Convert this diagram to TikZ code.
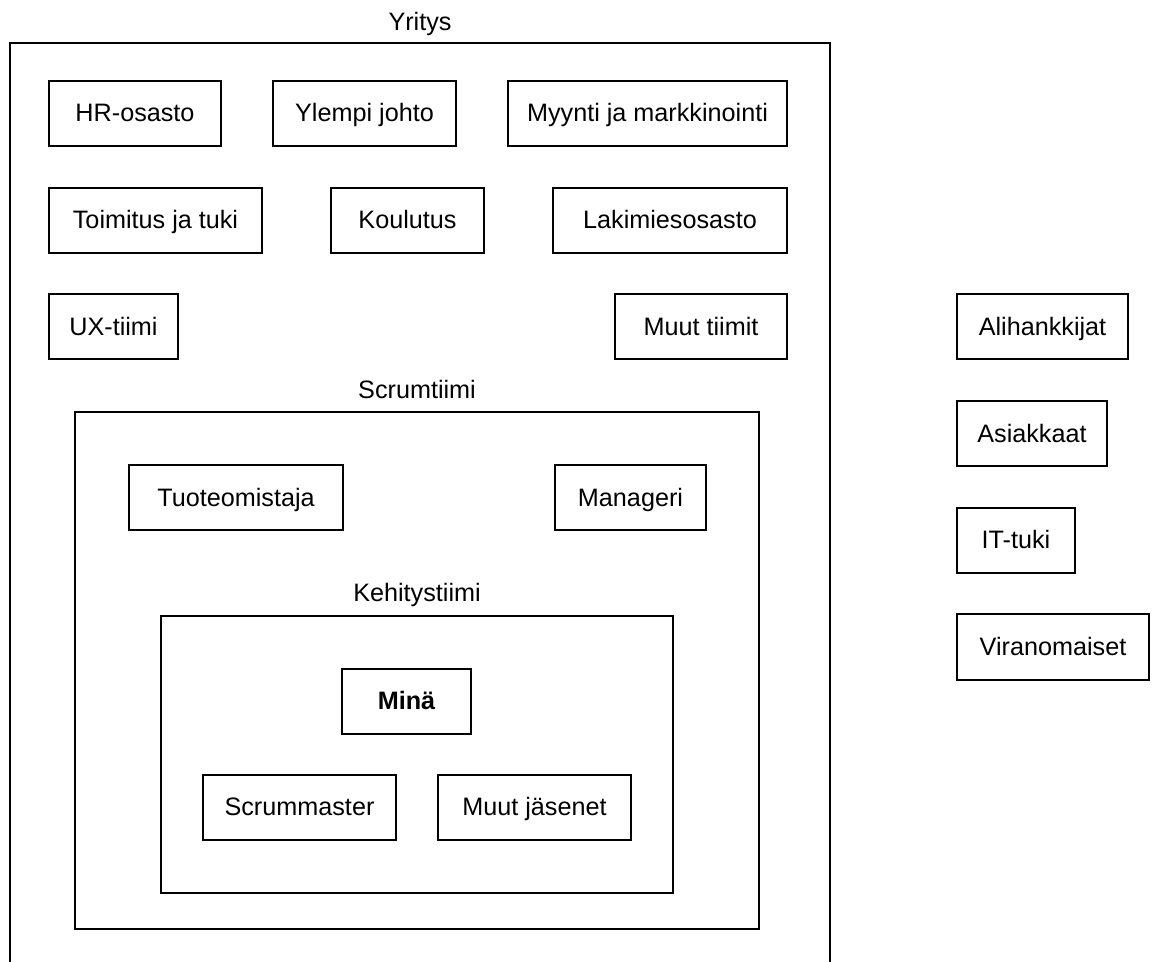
\documentclass[tikz,border=0pt]{standalone}
\usepackage{fontspec}
\setmainfont{Liberation Sans}

\begin{document}
\begin{tikzpicture}[
    x=0.5pt, y=-0.5pt,
    line width=1pt,
    orgbox/.style={
        rectangle,
        draw,
        inner sep=0pt,
        minimum height=32.5pt,
        text height=9pt,
        text depth=0.8pt,
        font=\fontsize{12.6}{15}\selectfont,
    },
    areabox/.style={
        rectangle,
        draw,
        inner sep=0pt,
    },
    arealabel/.style={
        inner sep=0pt,
        text height=9pt,
        text depth=0.8pt,
        font=\fontsize{12.6}{15}\selectfont,
    },
]

    \useasboundingbox (0,0) rectangle (1152,962);
    \clip (0,0) rectangle (1152,962);

    % Yritys
    \node[areabox, minimum width=410pt, minimum height=478.5pt] (yritys) at (420,521.5) {};
    \node[arealabel] (yrityslbl) at (420,22) {Yritys};

    \node[orgbox, minimum width=86pt]   (hr)     at (135,113.5)   {HR-osasto};
    \node[orgbox, minimum width=91.5pt] (johto)  at (364.5,113.5) {Ylempi johto};
    \node[orgbox, minimum width=139.5pt](myynti) at (647.5,113.5) {Myynti ja markkinointi};

    \node[orgbox, minimum width=106.5pt](toimi)  at (155.5,220.5) {Toimitus ja tuki};
    \node[orgbox, minimum width=76.5pt] (koul)   at (407.5,220.5) {Koulutus};
    \node[orgbox, minimum width=117pt]  (laki)   at (670,220.5)   {Lakimiesosasto};

    \node[orgbox, minimum width=64.5pt] (ux)     at (113.5,327)   {UX-tiimi};
    \node[orgbox, minimum width=86pt]   (muut)   at (701,327)     {Muut tiimit};

    % Scrumtiimi
    \node[areabox, minimum width=342pt, minimum height=258.5pt] (scrum) at (417,670.5) {};
    \node[arealabel] (scrumlbl) at (417,390) {Scrumtiimi};

    \node[orgbox, minimum width=107pt]  (tuote)  at (236,498)     {Tuoteomistaja};
    \node[orgbox, minimum width=75.5pt] (mgr)    at (630.5,498)   {Manageri};

    % Kehitystiimi
    \node[areabox, minimum width=256pt, minimum height=138.5pt] (kehitys) at (417,754.5) {};
    \node[arealabel] (kehityslbl) at (417,593) {Kehitystiimi};

    \node[orgbox, minimum width=64.5pt, font=\fontsize{12.6}{15}\selectfont\bfseries] (mina) at (406.5,701) {Minä};
    \node[orgbox, minimum width=96.5pt] (sm)     at (299.5,807)   {Scrummaster};
    \node[orgbox, minimum width=96.5pt] (muutj)  at (534.5,807)   {Muut jäsenet};

    % ulkopuoliset
    \node[orgbox, minimum width=85.5pt] (aliha)  at (1042.5,327)  {Alihankkijat};
    \node[orgbox, minimum width=75pt]   (asiak)  at (1032,434)    {Asiakkaat};
    \node[orgbox, minimum width=59pt]   (ittuki) at (1016,540.5)  {IT-tuki};
    \node[orgbox, minimum width=96pt]   (viran)  at (1053,647)    {Viranomaiset};

\end{tikzpicture}
\end{document}
